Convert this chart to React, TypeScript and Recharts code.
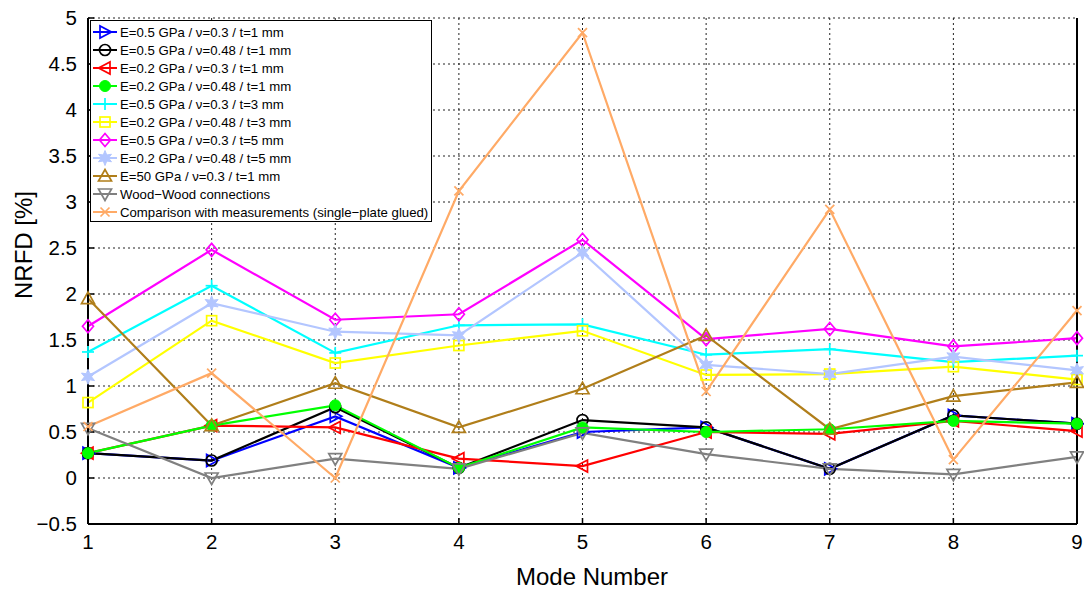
import React from 'react';
import {
	LineChart,
	Line,
	XAxis,
	YAxis,
	CartesianGrid,
	Legend,
} from 'recharts';

const modes = [1, 2, 3, 4, 5, 6, 7, 8, 9];
const yTicks = [-0.5, 0, 0.5, 1, 1.5, 2, 2.5, 3, 3.5, 4, 4.5, 5];

const e05v03t1 = [0.27, 0.19, 0.67, 0.11, 0.5, 0.55, 0.1, 0.68, 0.59];
const e05v048t1 = [0.27, 0.19, 0.77, 0.11, 0.63, 0.55, 0.1, 0.68, 0.59];
const e02v03t1 = [0.27, 0.57, 0.55, 0.21, 0.13, 0.5, 0.48, 0.62, 0.51];
const e02v048t1 = [0.27, 0.57, 0.79, 0.11, 0.55, 0.5, 0.53, 0.62, 0.59];
const e05v03t3 = [1.37, 2.09, 1.36, 1.66, 1.67, 1.34, 1.4, 1.26, 1.33];
const e02v048t3 = [0.82, 1.71, 1.25, 1.44, 1.6, 1.12, 1.13, 1.21, 1.07];
const e05v03t5 = [1.65, 2.48, 1.72, 1.78, 2.59, 1.51, 1.62, 1.43, 1.52];
const e02v048t5 = [1.1, 1.9, 1.59, 1.55, 2.45, 1.23, 1.13, 1.32, 1.17];
const e50v03t1 = [1.95, 0.57, 1.03, 0.55, 0.97, 1.55, 0.53, 0.89, 1.04];
const woodWood = [0.54, 0.0, 0.21, 0.1, 0.49, 0.26, 0.1, 0.04, 0.23];
const measured = [0.56, 1.14, 0.0, 3.12, 4.84, 0.94, 2.92, 0.2, 1.82];

const series = [
	{ key: 's1', name: 'E=0.5 GPa / ν=0.3 / t=1 mm', color: '#0000ff', marker: 'triRight', values: e05v03t1 },
	{ key: 's2', name: 'E=0.5 GPa / ν=0.48 / t=1 mm', color: '#000000', marker: 'circle', values: e05v048t1 },
	{ key: 's3', name: 'E=0.2 GPa / ν=0.3 / t=1 mm', color: '#ff0000', marker: 'triLeft', values: e02v03t1 },
	{ key: 's4', name: 'E=0.2 GPa / ν=0.48 / t=1 mm', color: '#00ff00', marker: 'dot', values: e02v048t1 },
	{ key: 's5', name: 'E=0.5 GPa / ν=0.3 / t=3 mm', color: '#00ffff', marker: 'plus', values: e05v03t3 },
	{ key: 's6', name: 'E=0.2 GPa / ν=0.48 / t=3 mm', color: '#ffff00', marker: 'square', values: e02v048t3 },
	{ key: 's7', name: 'E=0.5 GPa / ν=0.3 / t=5 mm', color: '#ff00ff', marker: 'diamond', values: e05v03t5 },
	{ key: 's8', name: 'E=0.2 GPa / ν=0.48 / t=5 mm', color: '#b3c6ff', marker: 'star', values: e02v048t5 },
	{ key: 's9', name: 'E=50 GPa / ν=0.3 / t=1 mm', color: '#b07e1a', marker: 'triUp', values: e50v03t1 },
	{ key: 's10', name: 'Wood−Wood connections', color: '#808080', marker: 'triDown', values: woodWood },
	{ key: 's11', name: 'Comparison with measurements (single−plate glued)', color: '#ffaa66', marker: 'cross', values: measured },
];

const data = modes.map((m, i) => {
	const row: Record<string, number> = { mode: m };
	series.forEach((s) => {
		row[s.key] = s.values[i];
	});
	return row;
});

const FONT = '"Liberation Sans", Arial, sans-serif';

const Marker = ({ kind, cx, cy, color }: { kind: string; cx: number; cy: number; color: string }) => {
	const r = 5.5;
	const common = { stroke: color, strokeWidth: 1.7, fill: 'none' };
	switch (kind) {
		case 'triRight':
			return <polygon points={`${cx - 5},${cy - 6} ${cx - 5},${cy + 6} ${cx + 6.5},${cy}`} {...common} />;
		case 'triLeft':
			return <polygon points={`${cx + 5},${cy - 6} ${cx + 5},${cy + 6} ${cx - 6.5},${cy}`} {...common} />;
		case 'triUp':
			return <polygon points={`${cx - 6.5},${cy + 5} ${cx + 6.5},${cy + 5} ${cx},${cy - 6.5}`} {...common} />;
		case 'triDown':
			return <polygon points={`${cx - 6.5},${cy - 5} ${cx + 6.5},${cy - 5} ${cx},${cy + 6.5}`} {...common} />;
		case 'circle':
			return <circle cx={cx} cy={cy} r={r} {...common} />;
		case 'dot':
			return <circle cx={cx} cy={cy} r={r} stroke={color} strokeWidth={1} fill={color} />;
		case 'plus':
			return (
				<g stroke={color} strokeWidth={1.7}>
					<line x1={cx - 6} y1={cy} x2={cx + 6} y2={cy} />
					<line x1={cx} y1={cy - 6} x2={cx} y2={cy + 6} />
				</g>
			);
		case 'square':
			return <rect x={cx - 5} y={cy - 5} width={10} height={10} {...common} />;
		case 'diamond':
			return <polygon points={`${cx},${cy - 6.5} ${cx + 5.5},${cy} ${cx},${cy + 6.5} ${cx - 5.5},${cy}`} {...common} />;
		case 'star': {
			const pts: string[] = [];
			for (let k = 0; k < 12; k++) {
				const a = (Math.PI / 6) * k - Math.PI / 2;
				const rr = k % 2 === 0 ? 7.5 : 3.5;
				pts.push(`${cx + rr * Math.cos(a)},${cy + rr * Math.sin(a)}`);
			}
			return <polygon points={pts.join(' ')} fill={color} stroke={color} strokeWidth={1} />;
		}
		case 'cross':
			return (
				<g stroke={color} strokeWidth={1.7}>
					<line x1={cx - 4.5} y1={cy - 4.5} x2={cx + 4.5} y2={cy + 4.5} />
					<line x1={cx - 4.5} y1={cy + 4.5} x2={cx + 4.5} y2={cy - 4.5} />
				</g>
			);
		default:
			return null;
	}
};

const renderLegend = () => (
	<div
		style={{
			border: '1.5px solid #000',
			background: '#fff',
			width: 340,
			height: 198,
			padding: '2px 0 0 0',
			fontFamily: FONT,
			fontSize: 13.2,
			color: '#000',
		}}
	>
		{series.map((s) => (
			<div key={s.key} style={{ display: 'flex', alignItems: 'center', height: 18 }}>
				<svg width={26} height={18} style={{ marginLeft: 1, marginRight: 2 }}>
					<line x1={1} y1={9} x2={25} y2={9} stroke={s.color} strokeWidth={2} />
					<Marker kind={s.marker} cx={13} cy={9} color={s.color} />
				</svg>
				<span style={{ whiteSpace: 'nowrap' }}>{s.name}</span>
			</div>
		))}
	</div>
);

const fmt = (v: number) => String(v).replace('-', '−');

const App: React.FC = () => {
	return (
		<div style={{ position: 'absolute', left: 0, top: 0, background: '#fff' }}>
			<LineChart width={1084} height={590} data={data} margin={{ top: 18, right: 0, bottom: 0, left: 0 }}>
				<CartesianGrid stroke="#222" strokeDasharray="2 3" strokeWidth={1} />
				<XAxis
					dataKey="mode"
					type="number"
					domain={[1, 9]}
					ticks={modes}
					height={66}
					tickSize={-6}
					tickMargin={16}
					axisLine={{ stroke: '#000', strokeWidth: 2 }}
					tickLine={{ stroke: '#000', strokeWidth: 1.5 }}
					tick={{ fill: '#000', fontSize: 20.5, fontFamily: FONT }}
					label={{
						content: () => (
							<text x={592} y={585} textAnchor="middle" fill="#000" fontSize={24} fontFamily={FONT}>
								Mode Number
							</text>
						),
					}}
				/>
				<XAxis
					xAxisId="top"
					dataKey="mode"
					type="number"
					orientation="top"
					domain={[1, 9]}
					ticks={modes}
					height={0}
					tickSize={-6}
					tick={false}
					axisLine={{ stroke: '#000', strokeWidth: 2 }}
					tickLine={{ stroke: '#000', strokeWidth: 1.5 }}
				/>
				<YAxis
					domain={[-0.5, 5]}
					ticks={yTicks}
					width={88}
					tickSize={-6}
					tickMargin={17}
					tickFormatter={fmt}
					axisLine={{ stroke: '#000', strokeWidth: 2 }}
					tickLine={{ stroke: '#000', strokeWidth: 1.5 }}
					tick={{ fill: '#000', fontSize: 20.5, fontFamily: FONT }}
					label={{
						content: () => (
							<text
								x={0}
								y={0}
								transform="translate(32,245) rotate(-90)"
								textAnchor="middle"
								fill="#000"
								fontSize={24}
								fontFamily={FONT}
							>
								NRFD [%]
							</text>
						),
					}}
				/>
				<YAxis
					yAxisId="right"
					orientation="right"
					domain={[-0.5, 5]}
					ticks={yTicks}
					width={7}
					tickSize={-6}
					tick={false}
					axisLine={{ stroke: '#000', strokeWidth: 2 }}
					tickLine={{ stroke: '#000', strokeWidth: 1.5 }}
				/>
				<Legend
					content={renderLegend}
					layout="vertical"
					align="center"
					verticalAlign="middle"
					wrapperStyle={{ left: 90, top: 20, width: 'auto', height: 'auto' }}
				/>
				{series.map((s) => (
					<Line
						key={s.key}
						dataKey={s.key}
						name={s.name}
						type="linear"
						stroke={s.color}
						strokeWidth={2.2}
						isAnimationActive={false}
						dot={(p: any) => (
							<Marker key={`${s.key}-${p.index}`} kind={s.marker} cx={p.cx} cy={p.cy} color={s.color} />
						)}
						activeDot={false}
					/>
				))}
			</LineChart>
		</div>
	);
};

export default App;
